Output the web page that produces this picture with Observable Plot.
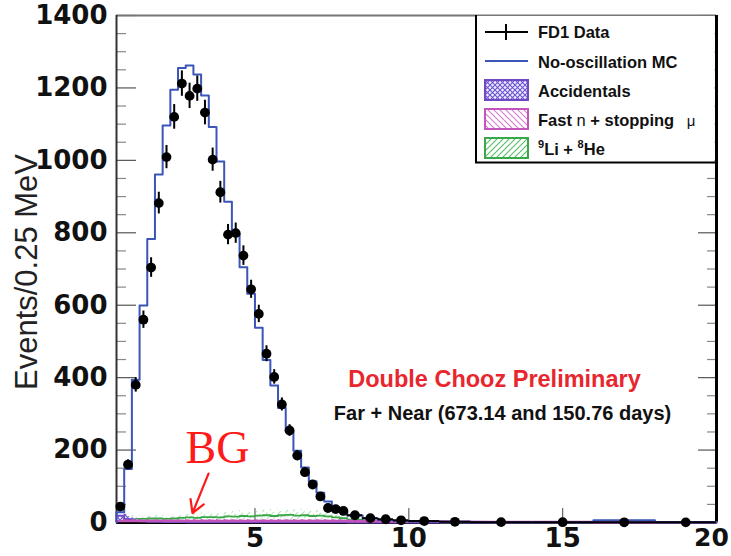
<!DOCTYPE html>
<html>
<head>
<meta charset="utf-8">
<script src="https://cdn.jsdelivr.net/npm/d3@7"></script>
<script src="https://cdn.jsdelivr.net/npm/@observablehq/plot@0.6"></script>
<style>
  html, body { margin: 0; padding: 0; background: #fff; }
  #wrap { position: relative; width: 731px; height: 556px; overflow: hidden; }
  #legend { position: absolute; left: 0; top: 0; pointer-events: none; }
</style>
</head>
<body>
<div id="wrap"></div>
<script>
// ---------- data ----------
const binEdges = [0.5,0.75,1.0,1.25,1.5,1.75,2.0,2.25,2.5,2.75,3.0,3.25,3.5,3.75,4.0,4.25,4.5,4.75,5.0,5.25,
                  5.5,5.75,6.0,6.25,6.5,6.75,7.0,7.25,7.5,7.75,8.0,8.5,9.0,9.5,10,11,12,14,16,18,20];

const dataCounts = [44,160,380,560,704,882,1009,1120,1212,1178,
                    1198,1132,1002,912,795,799,737,644,576,466,
                    402,326,254,185,139,105,72,40,37,32,
                    20,12,9,6,4,2,1,0.8,0.6,0.4];

const dataErrors = [7,13,20,24,27,30,32,34,35,35,
                    35,34,32,30,28,28,27,25,24,22,
                    20,18,16,14,12,10,9,6,6,6,
                    3,2.5,2,1.5,1.2,0.9,0.6,0.5,0.4,0.3];

const mcCounts = [28,148,394,599,783,961,1096,1195,1255,1262,
                  1237,1179,1092,997,886,795,705,632,538,449,
                  378,316,252,198,152,114,82,58,42,30,
                  19,11,7,4.5,3,1.8,1,0.8,6,0.5];

const accidentals = [19,9,5,3,2,1.5,1.2,1,0.8,0.6,
                     0.5,0.4,0.3,0.3,0.2,0.2,0.2,0.1,0.1,0.1,
                     0.1,0.1,0.1,0.1,0.1,0.1,0.1,0.1,0.1,0.1,
                     0,0,0,0,0,0,0,0,0,0];

const fastNeutron = [4,4,4,4,4,4,4,4,4,4,
                     4,4,4,4,4,4,4,4,4,4,
                     4,4,4,4,4,4,4,4,4,4,
                     3.5,3.5,3,3,2.5,2,1.5,1.2,1,1];

const lithiumHelium = [9,10,10,10,11,11,10,11,13,14,
                       13,15,15,14,17,16,18,17,19,20,
                       18,20,21,19,20,18,19,17,14,12,
                       8,5,3,2,1,0.5,0.3,0.2,0.1,0.1];

const xTicks = [5, 10, 15, 20];
const yTicks = [0, 200, 400, 600, 800, 1000, 1200, 1400];

const yAxisLabel = "Events/0.25 MeV";
const titleText = "Double Chooz Preliminary";
const subtitleText = "Far + Near (673.14 and 150.76 days)";
const bgText = "BG";

// ---------- derived tables ----------
function steps(vals) {
  const pts = [];
  vals.forEach((v, i) => {
    pts.push({x: binEdges[i], y: v});
    pts.push({x: binEdges[i + 1], y: v});
  });
  return pts;
}
const rows = dataCounts.map((v, i) => ({
  lo: binEdges[i], hi: binEdges[i + 1],
  c: (binEdges[i] + binEdges[i + 1]) / 2,
  v, e: dataErrors[i]
}));
const mcSteps = [{x: binEdges[0], y: 0}, ...steps(mcCounts)];
const liSteps = steps(lithiumHelium);
const accSteps = steps(accidentals);
const fnSteps = steps(fastNeutron);

const yMinor = d3.range(0, 1401, 50).filter(v => v % 200 !== 0);

const W = 731, H = 556;
const mL = 116, mR = 15, mT = 15, mB = 34;
const innerW = W - mL - mR, innerH = H - mT - mB;

const blue = "#3b55b8";
const green = "#3aa848";
const magenta = "#c254bb";
const purple = "#6f48c2";
const tickFont = "DejaVu Sans";

const chart = Plot.plot({
  width: W, height: H,
  marginLeft: mL, marginRight: mR, marginTop: mT, marginBottom: mB,
  style: {background: "white", fontFamily: tickFont, color: "#111", overflow: "visible"},
  x: {domain: [0.5, 20]},
  y: {domain: [0, 1400]},
  marks: [
    // inner ticks (left / right)
    Plot.tickY(yTicks, {y: d => d, stroke: "#555", strokeWidth: 1.2, insetRight: innerW - 20}),
    Plot.tickY(yMinor, {y: d => d, stroke: "#888", strokeWidth: 1.2, insetRight: innerW - 10}),
    Plot.tickY(yTicks, {y: d => d, stroke: "#555", strokeWidth: 1.2, insetLeft: innerW - 18}),
    Plot.tickY(yMinor, {y: d => d, stroke: "#888", strokeWidth: 1.2, insetLeft: innerW - 9}),
    Plot.tickX([5, 10, 15], {x: d => d, stroke: "#666", strokeWidth: 1.2, insetTop: innerH - 14}),
    // frame
    Plot.ruleY([1400], {stroke: "#777", strokeWidth: 2}),
    Plot.ruleX([0.5], {stroke: "#333", strokeWidth: 2}),
    Plot.ruleX([20], {stroke: "#000", strokeWidth: 3}),
    Plot.ruleY([0], {stroke: "#000", strokeWidth: 3}),
    // backgrounds
    Plot.areaY(liSteps, {x: "x", y: "y", fill: "url(#hatchGreen)", fillOpacity: 0.45}),
    Plot.line(liSteps, {x: "x", y: "y", stroke: green, strokeWidth: 1.8}),
    Plot.areaY(accSteps, {x: "x", y: "y", fill: "url(#hatchPurple)"}),
    Plot.line(accSteps, {x: "x", y: "y", stroke: purple, strokeWidth: 1.8}),
    Plot.areaY(fnSteps, {x: "x", y: "y", fill: magenta, fillOpacity: 0.9}),
    Plot.line(fnSteps, {x: "x", y: "y", stroke: magenta, strokeWidth: 2.5}),
    // MC
    Plot.line(mcSteps, {x: "x", y: "y", stroke: blue, strokeWidth: 2}),
    // data
    Plot.ruleX(rows, {x: "c", y1: d => d.v - d.e, y2: d => d.v + d.e, stroke: "black", strokeWidth: 2}),
    Plot.ruleY(rows, {y: "v", x1: "lo", x2: "hi", stroke: "black", strokeWidth: 2}),
    Plot.dot(rows, {x: "c", y: "v", r: 4.9, fill: "black", stroke: "none"}),
    // axis labels
    Plot.axisY({ticks: yTicks, tickSize: 0, tickPadding: 9, fontSize: 26, fontWeight: "bold",
                fontFamily: tickFont, label: null, tickFormat: d => String(d)}),
    Plot.axisX({ticks: xTicks.slice(0, 3), tickSize: 0, tickPadding: 6, fontSize: 26, fontWeight: "bold",
                fontFamily: tickFont, label: null, tickFormat: d => String(d)}),
    Plot.axisX({ticks: xTicks.slice(3), tickSize: 0, tickPadding: 6, dx: -5, fontSize: 25, fontWeight: "bold",
                fontFamily: tickFont, label: null, tickFormat: d => String(d)}),
    Plot.text([yAxisLabel], {frameAnchor: "left", dx: -89, dy: 3, rotate: -90, fontSize: 31,
                fontFamily: "Liberation Sans", fill: "#222", textAnchor: "middle", lineAnchor: "middle"}),
    // annotations
    Plot.text([titleText], {x: 12.785, y: 375, text: d => d, fontSize: 23.5, fontWeight: "bold",
                fontFamily: "Liberation Sans", fill: "#e8262e", textAnchor: "middle", lineAnchor: "bottom"}),
    Plot.text([subtitleText], {x: 13.045, y: 282, text: d => d, fontSize: 20, fontWeight: "bold",
                fontFamily: "Liberation Sans", fill: "#111", textAnchor: "middle", lineAnchor: "bottom"}),
    Plot.text([bgText], {x: 3.78, y: 163, text: d => d, fontSize: 46, fontFamily: "Liberation Serif",
                fill: "#ff1a1a", textAnchor: "middle", lineAnchor: "bottom"}),
    Plot.arrow([{x1: 3.49, y1: 135, x2: 2.97, y2: 26}], {x1: "x1", y1: "y1", x2: "x2", y2: "y2",
                stroke: "#ff1a1a", strokeWidth: 2.2, headLength: 12})
  ]
});

const wrap = document.getElementById("wrap");
wrap.appendChild(chart);

// ---------- legend overlay ----------
const legendItems = ["FD1 Data", "No-oscillation MC", "Accidentals", "Fast n + stopping μ", "9Li + 8He"];
const legendSvg = `
<svg id="legend" width="${W}" height="${H}" xmlns="http://www.w3.org/2000/svg">
  <defs>
    <pattern id="hatchPurple" patternUnits="userSpaceOnUse" width="5" height="5">
      <rect width="5" height="5" fill="#f1ecfb"/>
      <path d="M0,0L5,5M5,0L0,5" stroke="#6a55d0" stroke-width="1.1"/>
    </pattern>
    <pattern id="hatchMagenta" patternUnits="userSpaceOnUse" width="6" height="6">
      <path d="M0,0L6,6M-1,5L1,7M5,-1L7,1" stroke="#d67ccf" stroke-width="1.1"/>
    </pattern>
    <pattern id="hatchGreen" patternUnits="userSpaceOnUse" width="6" height="6">
      <path d="M0,6L6,0M-1,1L1,-1M5,7L7,5" stroke="#55bd63" stroke-width="1.1"/>
    </pattern>
  </defs>
  <rect x="476" y="16" width="238.5" height="146" fill="white"/>
  <line x1="476" y1="15" x2="476" y2="163" stroke="#000" stroke-width="2"/>
  <line x1="475" y1="162.5" x2="717" y2="162.5" stroke="#000" stroke-width="2"/>
  <line x1="485" y1="32" x2="528" y2="32" stroke="#000" stroke-width="2"/>
  <line x1="506" y1="24" x2="506" y2="40" stroke="#000" stroke-width="2"/>
  <line x1="485" y1="61" x2="528" y2="61" stroke="${blue}" stroke-width="2"/>
  <rect x="485" y="80" width="43" height="20" fill="url(#hatchPurple)" stroke="${purple}" stroke-width="2"/>
  <rect x="485" y="109" width="43" height="20" fill="url(#hatchMagenta)" stroke="${magenta}" stroke-width="2"/>
  <rect x="485" y="138" width="43" height="20" fill="url(#hatchGreen)" stroke="${green}" stroke-width="2"/>
  <g font-family="Liberation Sans" font-weight="bold" font-size="16.5" fill="#111">
    <text x="538" y="38">${legendItems[0]}</text>
    <text x="538" y="67.5">${legendItems[1]}</text>
    <text x="538" y="97">${legendItems[2]}</text>
    <text x="538" y="125.5">Fast <tspan font-weight="normal">n</tspan> + stopping <tspan font-weight="normal" font-size="15" dx="8">μ</tspan></text>
    <text x="538" y="155"><tspan font-size="11" dy="-7">9</tspan><tspan dy="7">Li + </tspan><tspan font-size="11" dy="-7">8</tspan><tspan dy="7">He</tspan></text>
  </g>
</svg>`;
wrap.insertAdjacentHTML("beforeend", legendSvg);
</script>
</body>
</html>
